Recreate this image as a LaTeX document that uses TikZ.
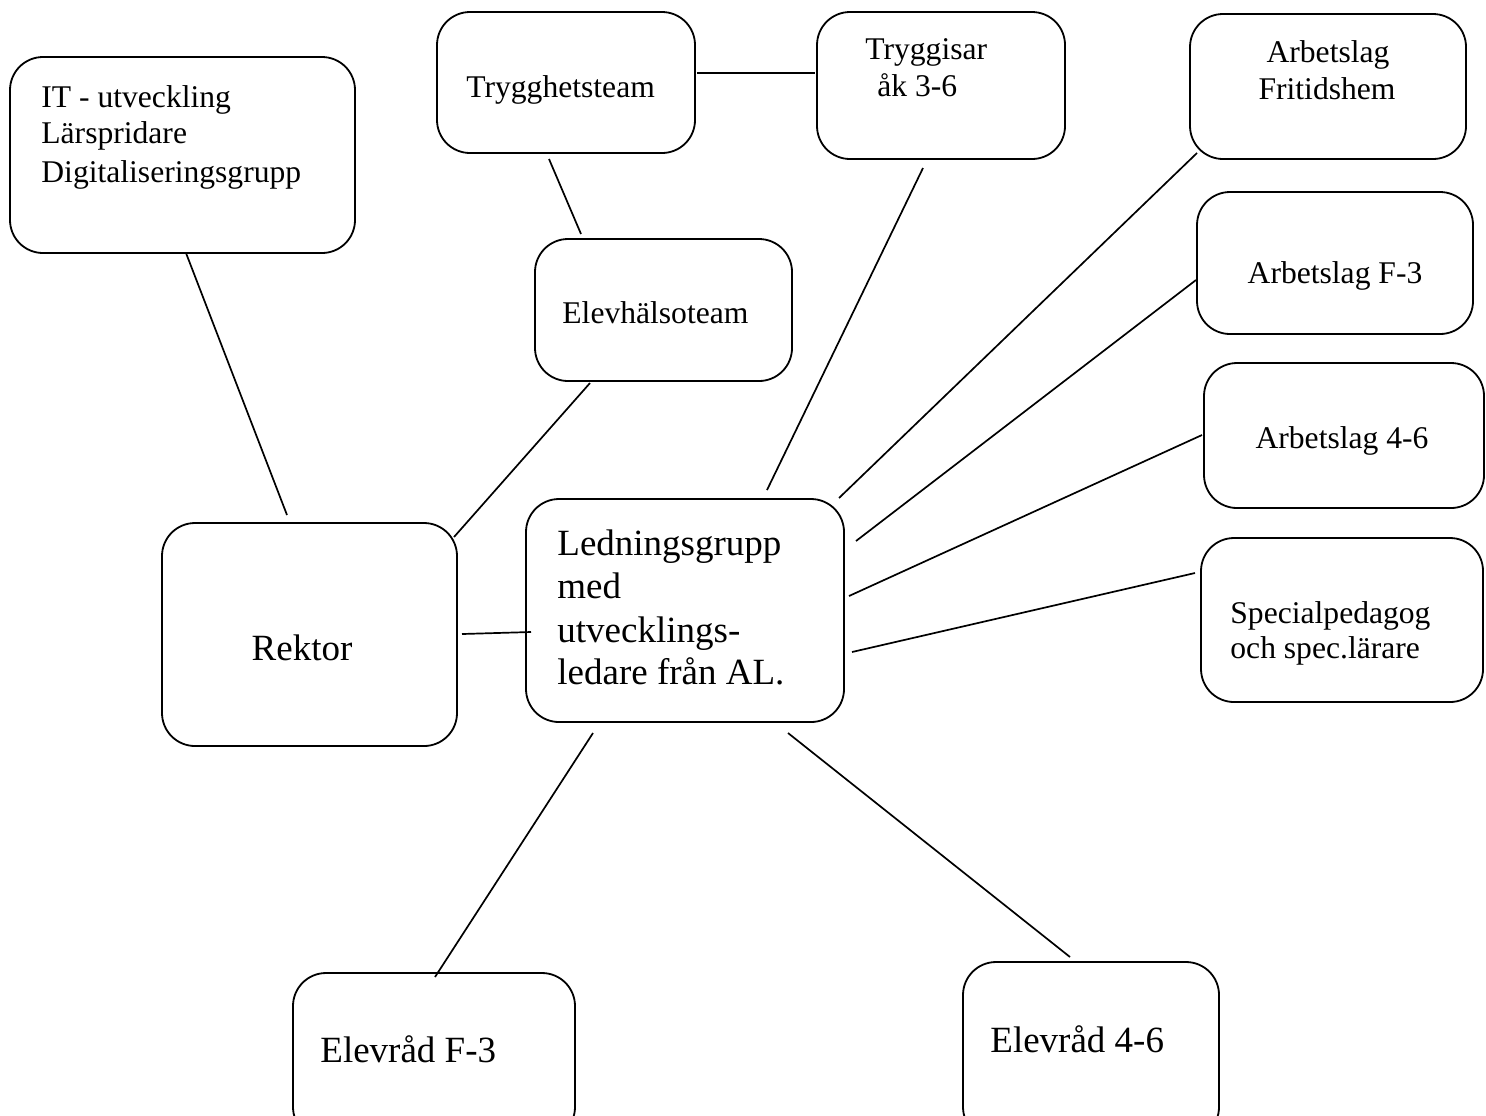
\documentclass[tikz,border=0pt]{standalone}
\usepackage{fontspec}
\setmainfont{Liberation Serif}
\begin{document}
\begin{tikzpicture}[x=0.5pt,y=-0.5pt,
  box/.style={draw,line width=0.9pt,rounded corners=16.5pt,inner sep=0pt,outer sep=0pt},
  conn/.style={line width=0.85pt},
  sm/.style={font=\fontsize{15.8}{18}\selectfont,inner sep=0pt},
  lg/.style={font=\fontsize{18.5}{21.5}\selectfont,inner sep=0pt}]
\useasboundingbox (0,0) rectangle (1486,1115);
\clip (0,0) rectangle (1486,1115);
\fill[white] (0,0) rectangle (1486,1115);

% boxes
\node[box,minimum width=172.5pt,minimum height=98pt] (it) at (182.5,155) {};
\node[box,minimum width=129pt,minimum height=70.5pt] (tryg) at (566,82.5) {};
\node[box,minimum width=124pt,minimum height=73.5pt] (tryggisar) at (941,85.5) {};
\node[box,minimum width=138pt,minimum height=72.5pt] (fritids) at (1328,86.5) {};
\node[box,minimum width=138pt,minimum height=71pt] (af3) at (1335,263) {};
\node[box,minimum width=140pt,minimum height=72.5pt] (a46) at (1344,435.5) {};
\node[box,minimum width=141pt,minimum height=82pt] (spec) at (1342,620) {};
\node[box,minimum width=128.5pt,minimum height=71pt] (elev) at (663.5,310) {};
\node[box,minimum width=147.5pt,minimum height=111.5pt] (rektor) at (309.5,634.5) {};
\node[box,minimum width=159pt,minimum height=111.5pt] (led) at (685,610.5) {};
\node[box,minimum width=141pt,minimum height=83.5pt] (ef3) at (434,1056.5) {};
\node[box,minimum width=128pt,minimum height=89pt] (e46) at (1091,1051) {};

% texts
\node[sm,anchor=base west] (it1) at (41,107) {IT - utveckling};
\node[sm,anchor=base west] (it2) at (41,143) {Lärspridare};
\node[sm,anchor=base west] (it3) at (41,182) {Digitaliseringsgrupp};
\node[sm,anchor=base west] (trygt) at (466,97) {Trygghetsteam};
\node[sm,anchor=base west] (tg1) at (865,59) {Tryggisar};
\node[sm,anchor=base west] (tg2) at (877,96) {åk 3-6};
\node[sm,anchor=base] (fr1) at (1328,62) {Arbetslag};
\node[sm,anchor=base] (fr2) at (1327,99) {Fritidshem};
\node[sm,anchor=base] (af3t) at (1335,283) {Arbetslag F-3};
\node[sm,anchor=base] (a46t) at (1342,448) {Arbetslag 4-6};
\node[sm,anchor=base west] (sp1) at (1230,623) {Specialpedagog};
\node[sm,anchor=base west] (sp2) at (1230,658) {och spec.lärare};
\node[sm,anchor=base west] (elevt) at (562,323) {Elevhälsoteam};
\node[lg,anchor=base] (rekt) at (302,660) {Rektor};
\node[lg,anchor=base west] (l1) at (557,555) {Ledningsgrupp};
\node[lg,anchor=base west] (l2) at (557,598) {med};
\node[lg,anchor=base west] (l3) at (557,642) {utvecklings-};
\node[lg,anchor=base west] (l4) at (557,684) {ledare från AL.};
\node[lg,anchor=base west] (ef3t) at (320,1062) {Elevråd F-3};
\node[lg,anchor=base west] (e46t) at (990,1052) {Elevråd 4-6};

% connector end points
\coordinate (c1a) at (186,253);  \coordinate (c1b) at (287,515);
\coordinate (c2a) at (549,159);  \coordinate (c2b) at (581,234);
\coordinate (c3a) at (697,73);   \coordinate (c3b) at (815,73);
\coordinate (c4a) at (590,383);  \coordinate (c4b) at (454,537);
\coordinate (c5a) at (923,168);  \coordinate (c5b) at (767,490);
\coordinate (c6a) at (1197,153); \coordinate (c6b) at (839,498);
\coordinate (c7a) at (1196,280); \coordinate (c7b) at (856,541);
\coordinate (c8a) at (1202,435); \coordinate (c8b) at (849,596);
\coordinate (c9a) at (1195,573); \coordinate (c9b) at (852,652);
\coordinate (c10a) at (462,634); \coordinate (c10b) at (531,632);
\coordinate (c11a) at (593,733); \coordinate (c11b) at (435,977);
\coordinate (c12a) at (788,733); \coordinate (c12b) at (1070,957);

\foreach \i in {1,...,12} {\draw[conn] (c\i a) -- (c\i b);}
\end{tikzpicture}
\end{document}
